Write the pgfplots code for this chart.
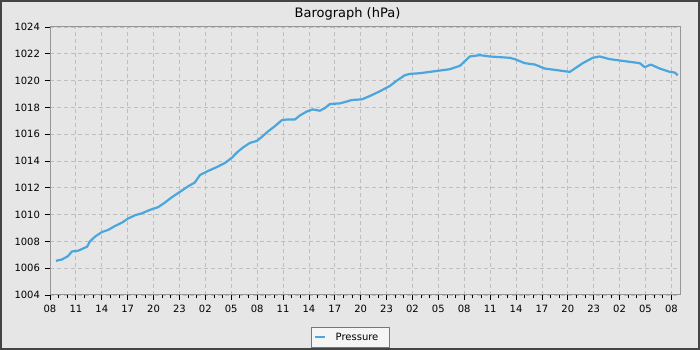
\documentclass[border=0pt]{standalone}
\usepackage{pgfplots}
\pgfplotsset{compat=1.18}
\usepackage{fontspec}
\setmainfont{DejaVu Sans}
\definecolor{bg}{RGB}{230,230,230}
\definecolor{framec}{RGB}{68,68,68}
\definecolor{axgray}{RGB}{150,150,150}
\definecolor{gridgray}{RGB}{190,190,190}
\definecolor{pres}{RGB}{74,166,220}
\definecolor{legfill}{RGB}{245,245,245}
\definecolor{legdraw}{RGB}{120,120,120}
\begin{document}
\begin{tikzpicture}
\useasboundingbox (0pt,0pt) rectangle (700pt,350pt);
\fill[bg] (0pt,0pt) rectangle (700pt,350pt);
\draw[framec, line width=2.4pt] (1.2pt,1.2pt) rectangle (698.8pt,348.8pt);
\node[font=\fontsize{13}{15}\selectfont, anchor=base, inner sep=0pt] at (347.5pt,332.3pt) {Barograph (hPa)};
\begin{axis}[
  at={(50pt,55pt)}, anchor=south west,
  scale only axis, width=630pt, height=268pt,
  xmin=0, xmax=73, ymin=1004, ymax=1024,
  xtick={0,3,...,72},
  xticklabels={08,11,14,17,20,23,02,05,08,11,14,17,20,23,02,05,08,11,14,17,20,23,02,05,08},
  minor x tick num=2,
  ytick={1004,1006,...,1024},
  minor y tick num=1,
  /pgf/number format/assume math mode=true,
  yticklabel style={/pgf/number format/1000 sep={}},
  tick label style={font=\fontsize{10}{12}\selectfont, black},
  tick align=outside,
  major tick length=5.5pt, minor tick length=3.5pt,
  every tick/.style={black, line width=0.8pt},
  axis line style={axgray, line width=1pt},
  grid=major,
  major grid style={gridgray, dash pattern=on 4pt off 3pt, line width=0.8pt},
  xtick pos=bottom, ytick pos=left,
  xticklabel style={yshift=-1pt},
  yticklabel style={xshift=-1pt},
  legend style={at={(0.4765,-0.120)}, anchor=north, fill=legfill, draw=legdraw,
    font=\fontsize{10}{12}\selectfont, inner xsep=2.5pt, inner ysep=3.5pt},
  legend image code/.code={\draw[#1, line width=2pt] (0pt,0pt) -- (10pt,0pt);},
]
\addplot[pres, line width=2.2pt, line join=round] coordinates {
(0.69,1006.55) (1.39,1006.65) (2.08,1006.9) (2.55,1007.25) (3.24,1007.3)
(3.94,1007.5) (4.29,1007.6) (4.63,1008.0) (5.21,1008.35) (6.02,1008.7)
(6.72,1008.85) (7.53,1009.15) (8.34,1009.4) (9.03,1009.7) (9.84,1009.95)
(10.66,1010.1) (11.58,1010.35) (12.51,1010.55) (13.32,1010.9) (14.13,1011.3)
(15.06,1011.7) (15.98,1012.1) (16.79,1012.4) (17.37,1012.95) (18.30,1013.25)
(19.34,1013.55) (20.27,1013.85) (21.08,1014.25) (21.77,1014.7) (22.35,1015.0)
(23.16,1015.35) (23.98,1015.5) (24.55,1015.8) (25.25,1016.2) (26.06,1016.6)
(26.87,1017.05) (27.57,1017.1) (28.38,1017.1) (28.96,1017.4) (29.77,1017.7)
(30.46,1017.85) (31.27,1017.75) (31.85,1017.95) (32.43,1018.25) (33.59,1018.3)
(34.17,1018.4) (34.98,1018.55) (36.14,1018.6) (37.06,1018.85) (38.22,1019.2)
(39.38,1019.6) (40.19,1020.0) (41.12,1020.4) (41.70,1020.5) (42.85,1020.55)
(44.01,1020.65) (45.17,1020.75) (46.33,1020.85) (47.49,1021.1) (48.07,1021.45)
(48.64,1021.8) (49.80,1021.9) (50.96,1021.8) (52.12,1021.75) (53.28,1021.7)
(53.86,1021.6) (55.01,1021.3) (56.17,1021.2) (57.33,1020.9) (58.49,1020.8)
(59.65,1020.7) (60.23,1020.65) (60.81,1020.9) (61.73,1021.3) (62.89,1021.7)
(63.70,1021.8) (64.86,1021.6) (66.02,1021.5) (67.18,1021.4) (68.34,1021.3)
(68.92,1021.0) (69.61,1021.2) (70.65,1020.9) (71.81,1020.65) (72.39,1020.6)
(72.74,1020.4)
};
\addlegendentry{\makebox[57pt][l]{\kern8pt Pressure}}
\end{axis}
\end{tikzpicture}
\end{document}
